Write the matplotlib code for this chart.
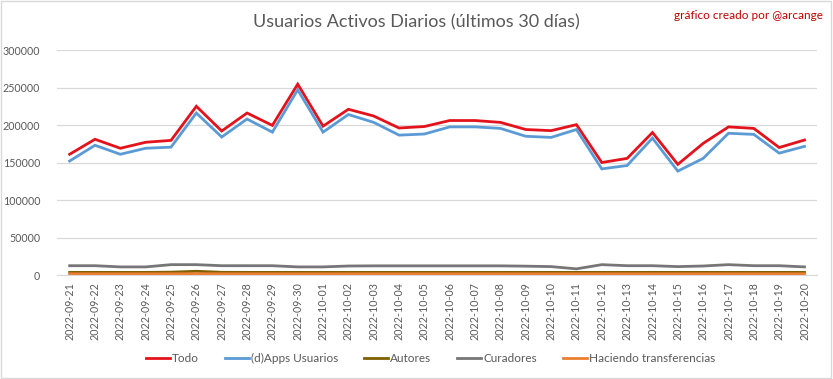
import numpy as np
import pandas as pd
import matplotlib
matplotlib.use("Agg")
import matplotlib.pyplot as plt
from matplotlib.patches import Rectangle

plt.rcParams['font.family'] = ['Lato', 'DejaVu Sans']

# dates shown on the x axis
fechas = list(pd.date_range("2022-09-21", "2022-10-20").strftime("%Y-%m-%d"))

# daily values
todo = [161000, 181000, 169000, 177000, 179500, 225000, 192000, 216000, 199500, 254500,
        198500, 221000, 212000, 196000, 198000, 206000, 206000, 203500, 194000, 192500,
        200500, 150000, 155500, 190000, 147500, 175500, 197500, 195500, 170000, 180000]
apps = [152000, 173000, 161000, 169000, 170500, 216000, 184000, 208000, 190500, 247000,
        190500, 214000, 203500, 186500, 188000, 197500, 197500, 195500, 185000, 183500,
        194000, 141500, 146000, 182500, 138500, 155500, 189000, 187500, 162500, 171500]
autores = [3500, 3500, 3500, 3500, 3800, 5000, 3600, 3500, 3500, 3500,
           3500, 3500, 3500, 3500, 3500, 3500, 3500, 3500, 3500, 3500,
           3500, 3500, 3500, 3500, 3500, 3500, 3500, 3500, 3500, 3500]
curadores = [12400, 12400, 10800, 10800, 13800, 13800, 12400, 12400, 12400, 10800,
             10800, 12000, 12200, 12200, 12200, 12200, 12200, 12200, 11800, 11200,
             8200, 13800, 12400, 12400, 11200, 12000, 13800, 12400, 12400, 10800]
transfer = [1600, 1600, 1600, 1600, 1600, 1700, 1600, 1600, 1600, 1600,
            1600, 1600, 1600, 1600, 1600, 1600, 1600, 1600, 1600, 1600,
            1600, 1600, 1600, 1600, 1600, 1600, 1600, 1600, 1600, 1600]

series = [
    ("Todo", todo, "#E3121B"),
    ("(d)Apps Usuarios", apps, "#5B9BD5"),
    ("Autores", autores, "#7F6000"),
    ("Curadores", curadores, "#767676"),
    ("Haciendo transferencias", transfer, "#ED7D31"),
]

fig = plt.figure(figsize=(8.33, 3.79), dpi=100)
ax = fig.add_axes([0.0684, 0.2744, 0.9126, 0.5936])

x = np.arange(len(fechas))
for name, vals, col in series:
    ax.plot(x, vals, color=col, lw=2.0, label=name, solid_joinstyle='miter')

ax.set_xlim(-0.5, len(fechas) - 0.5)
ax.set_ylim(0, 300000)
ax.set_yticks(np.arange(0, 300001, 50000))
ax.set_yticklabels([str(v) for v in range(0, 300001, 50000)])
ax.set_xticks(x)
ax.set_xticklabels(fechas, rotation=90)
ax.tick_params(axis='both', length=0, labelsize=7.7, colors='#595959')
ax.tick_params(axis='y', pad=12)
ax.tick_params(axis='x', pad=5)
ax.grid(axis='y', color='#D9D9D9', lw=0.9)
ax.set_axisbelow(True)
for s in ['top', 'right', 'left']:
    ax.spines[s].set_visible(False)
ax.spines['bottom'].set_color('#D9D9D9')

fig.text(0.5, 0.94, "Usuarios Activos Diarios (últimos 30 días)", ha='center', va='center',
         fontsize=13, color='#595959')
fig.text(0.988, 0.958, "gráfico creado por @arcange", ha='right', va='center',
         fontsize=8.5, color='#C00000')

fig.legend(loc='center', bbox_to_anchor=(0.517, 0.055), ncol=5, frameon=False,
           fontsize=8.5, labelcolor='#595959', handlelength=2.0, handletextpad=0.2,
           columnspacing=2.2)

fig.patches.append(Rectangle((0.001, 0.002), 0.997, 0.995, transform=fig.transFigure,
                             fill=False, edgecolor='#D9D9D9', lw=1))

fig.savefig("out.png", dpi=100, facecolor='white')
